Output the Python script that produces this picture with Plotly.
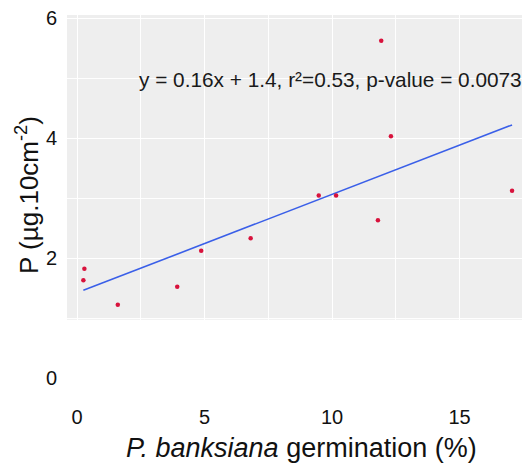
import numpy as np
import plotly.graph_objects as go

# Germination (%) of P. banksiana and phosphorus supply (µg.10cm-2)
germination = [0.29, 0.25, 1.6, 3.93, 4.87, 6.81, 9.48, 10.16, 11.8, 11.93, 12.31, 17.06]
phosphorus = [1.82, 1.63, 1.22, 1.52, 2.12, 2.33, 3.04, 3.04, 2.63, 5.62, 4.03, 3.12]

# Linear model summary
slope = 0.164
intercept = 1.42
r_squared = 0.53
p_value = 0.0073

x_ticks = [0, 5, 10, 15]
y_ticks = [0, 2, 4, 6]

FONT = "Liberation Sans, Arial, sans-serif"

x_fit = np.array([min(germination), max(germination)])
y_fit = slope * x_fit + intercept

fig = go.Figure()

fig.add_trace(go.Scatter(
    x=x_fit, y=y_fit, mode="lines",
    line=dict(color="#3a5fe8", width=1.6),
    hoverinfo="skip", showlegend=False,
))

fig.add_trace(go.Scatter(
    x=germination, y=phosphorus, mode="markers",
    marker=dict(color="#d8123c", size=4.5, line=dict(width=0)),
    showlegend=False,
))

# grey panel behind the points
fig.add_shape(
    type="rect", xref="paper", yref="y",
    x0=0, x1=1, y0=0.97, y1=6.05,
    fillcolor="#eeeeee", line=dict(width=0), layer="below",
)

eq_text = (f"y = {slope:.2f}x + {intercept:.1f}, r\u00b2={r_squared:.2f}, "
           f"p-value = {p_value:.4f}")
fig.add_annotation(
    x=2.35, y=4.97, xref="x", yref="y", text=eq_text,
    showarrow=False, xanchor="left", yanchor="middle",
    font=dict(family=FONT, size=20.8, color="#1a1a1a"),
)

# axis titles
fig.add_annotation(
    x=301, y=468 - 448, xref="paper", yref="paper",
    text="<i>P. banksiana</i> germination (%)",
    showarrow=False, xanchor="center", yanchor="middle",
    font=dict(family=FONT, size=27, color="#111111"),
)
fig.add_annotation(
    x=27, y=468 - 195, xref="paper", yref="paper",
    text="P (µg.10cm<sup>-2</sup>)", textangle=-90,
    showarrow=False, xanchor="center", yanchor="middle",
    font=dict(family=FONT, size=26, color="#111111"),
)

W, H = 522, 468
ml, mt, mb = 67, 0, 73
# convert the title annotation pixel positions to paper coords
pw, ph = W - ml, H - mt - mb
for ann in fig.layout.annotations[1:]:
    ann.x = (ann.x - ml) / pw
    ann.y = (ann.y - mb) / ph

fig.update_layout(
    width=W, height=H,
    margin=dict(l=ml, r=0, t=mt, b=mb, pad=0),
    paper_bgcolor="white", plot_bgcolor="white",
    font=dict(family=FONT, size=20, color="#111111"),
    xaxis=dict(
        range=[-0.392, 17.45], tickvals=x_ticks, ticks="",
        ticklabelstandoff=8,
        showgrid=True, gridcolor="rgba(255,255,255,0.9)", gridwidth=1.4,
        minor=dict(dtick=2.5, showgrid=True, gridcolor="rgba(255,255,255,0.9)", gridwidth=1),
        zeroline=False, showline=False,
        tickfont=dict(family=FONT, size=20, color="#111111"),
    ),
    yaxis=dict(
        range=[-0.2833, 6.3], tickvals=y_ticks, ticks="",
        ticklabelstandoff=9,
        showgrid=True, gridcolor="rgba(255,255,255,0.9)", gridwidth=1.4,
        minor=dict(dtick=1, showgrid=True, gridcolor="rgba(255,255,255,0.9)", gridwidth=1),
        zeroline=False, showline=False,
        tickfont=dict(family=FONT, size=20, color="#111111"),
    ),
)

fig.write_html("out.html")
